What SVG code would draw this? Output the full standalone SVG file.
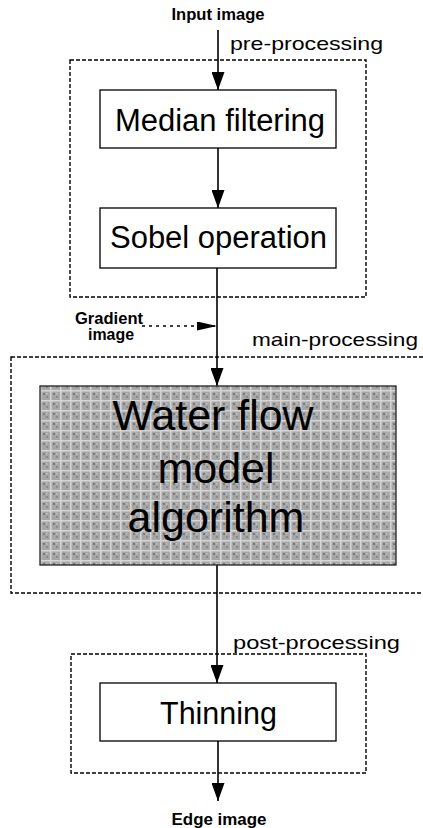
<svg xmlns="http://www.w3.org/2000/svg" width="423" height="828" viewBox="0 0 423 828">
<style>
.box{fill:#fff;stroke:#000;stroke-width:1.3}
.grp{fill:none;stroke:#000;stroke-width:1.4;stroke-dasharray:4 2}
.ln{stroke:#000;stroke-width:1.6;fill:none}
.dot{stroke:#000;stroke-width:1.6;fill:none;stroke-dasharray:3 4}
.big{font-family:"Liberation Sans",Arial,sans-serif;font-size:31px;fill:#000}
.wf{font-family:"Liberation Sans",Arial,sans-serif;font-size:43px;fill:#000}
.lbl{font-family:"Liberation Sans",Arial,sans-serif;font-size:19px;fill:#000}
.sm{font-family:"Liberation Sans",Arial,sans-serif;font-size:16px;font-weight:bold;fill:#000}
</style>
<defs>
<pattern id="tex" width="10" height="10" patternUnits="userSpaceOnUse">
<rect width="10" height="10" fill="#a6a6a6"/>
<rect x="0" y="0" width="10" height="1.5" fill="#d6d6d6"/>
<rect x="0" y="0" width="1.5" height="10" fill="#d6d6d6"/>
<rect x="3" y="3" width="2" height="2" fill="#7a7a7a"/>
<rect x="6" y="6" width="2" height="2" fill="#8a8a8a"/>
<rect x="6" y="3" width="1.5" height="1.5" fill="#c0c0c0"/>
</pattern>
<marker id="ah" markerWidth="18" markerHeight="13" refX="18" refY="6.5" viewBox="0 0 18 13" markerUnits="userSpaceOnUse" orient="auto">
<path d="M0,0 L18,6.5 L0,13 Z" fill="#000"/>
</marker>
<marker id="ahs" markerWidth="20" markerHeight="9" refX="20" refY="4.5" viewBox="0 0 20 9" markerUnits="userSpaceOnUse" orient="auto">
<path d="M0,0 L20,4.5 L0,9 Z" fill="#000"/>
</marker>
</defs>

<g id="groups">
<rect id="pre-group" class="grp" x="70" y="60" width="296" height="237"/>
<rect id="main-group" class="grp" x="11" y="357" width="420" height="236"/>
<rect id="post-group" class="grp" x="71" y="654" width="295" height="119"/>
<text class="lbl" x="230" y="50" textLength="153" lengthAdjust="spacingAndGlyphs">pre-processing</text>
<text class="lbl" x="252" y="346" textLength="166" lengthAdjust="spacingAndGlyphs">main-processing</text>
<text class="lbl" x="233" y="649" textLength="167" lengthAdjust="spacingAndGlyphs">post-processing</text>
</g>

<g id="connectors">
<line class="ln" x1="218" y1="30" x2="218" y2="90" marker-end="url(#ah)"/>
<line class="ln" x1="218" y1="148" x2="218" y2="208" marker-end="url(#ah)"/>
<line class="ln" x1="217" y1="268" x2="217" y2="386" marker-end="url(#ah)"/>
<line class="dot" x1="142" y1="326" x2="217" y2="326" marker-end="url(#ahs)"/>
<line class="ln" x1="217" y1="565" x2="217" y2="683" marker-end="url(#ah)"/>
<line class="ln" x1="218" y1="741" x2="218" y2="801" marker-end="url(#ah)"/>
</g>

<g id="input-label">
<text class="sm" x="218" y="20" text-anchor="middle" textLength="93" lengthAdjust="spacingAndGlyphs">Input image</text>
</g>

<g id="median">
<rect class="box" x="100" y="90" width="236" height="58"/>
<text class="big" x="115" y="131" textLength="210" lengthAdjust="spacingAndGlyphs">Median filtering</text>
</g>

<g id="sobel">
<rect class="box" x="100" y="208" width="236" height="60"/>
<text class="big" x="110" y="248" textLength="217" lengthAdjust="spacingAndGlyphs">Sobel operation</text>
</g>

<g id="gradient-label">
<text class="sm" x="75" y="324" textLength="68" lengthAdjust="spacingAndGlyphs">Gradient</text>
<text class="sm" x="88" y="340" textLength="46" lengthAdjust="spacingAndGlyphs">image</text>
</g>

<g id="waterflow">
<rect x="40" y="386" width="356" height="179" fill="url(#tex)" stroke="#222" stroke-width="1.3"/>
<text class="wf" x="213" y="430" text-anchor="middle" textLength="201" lengthAdjust="spacingAndGlyphs">Water flow</text>
<text class="wf" x="216" y="483" text-anchor="middle">model</text>
<text class="wf" x="216" y="532" text-anchor="middle">algorithm</text>
</g>

<g id="thinning">
<rect class="box" x="100" y="683" width="236" height="58"/>
<text class="big" x="160" y="724" textLength="117" lengthAdjust="spacingAndGlyphs">Thinning</text>
</g>

<g id="edge-label">
<text class="sm" x="219" y="825" text-anchor="middle" textLength="95" lengthAdjust="spacingAndGlyphs">Edge image</text>
</g>
</svg>
